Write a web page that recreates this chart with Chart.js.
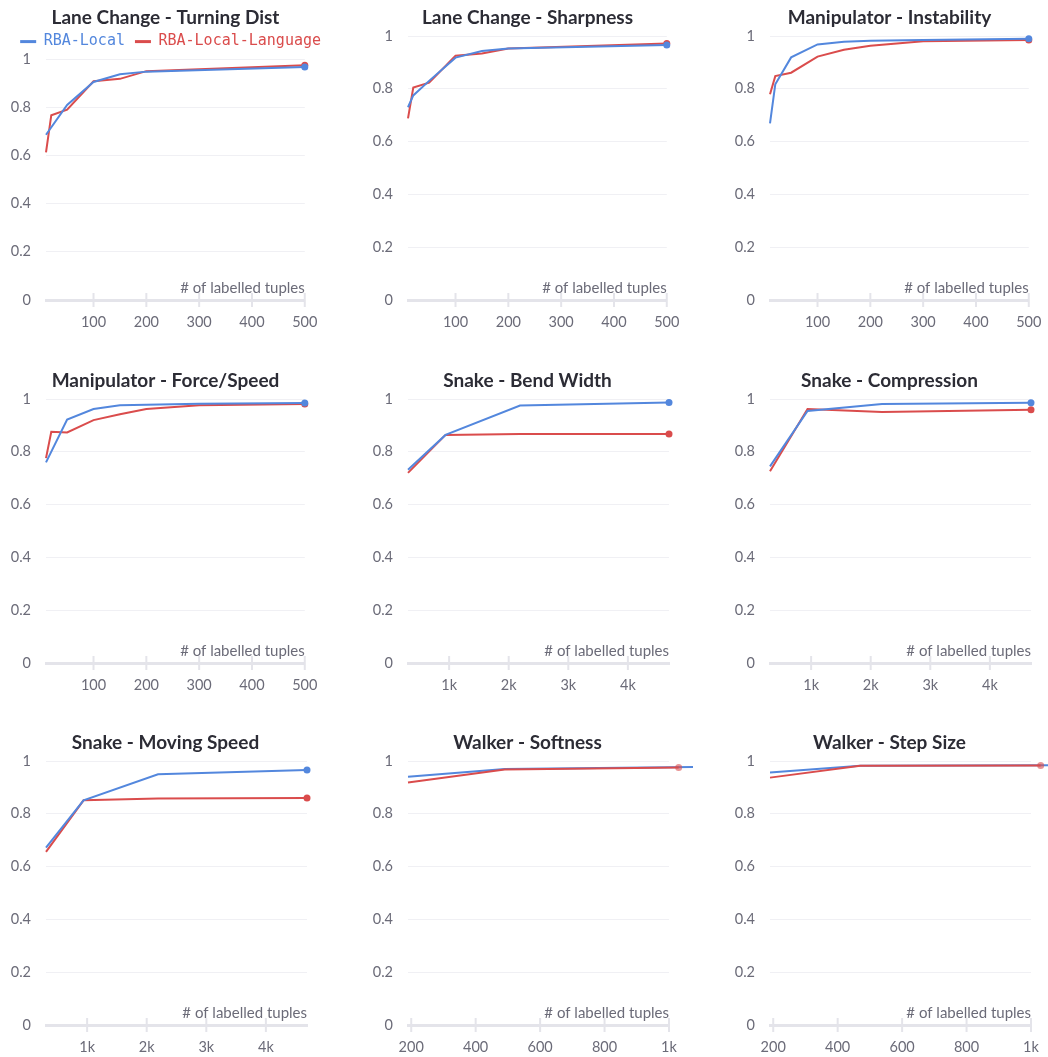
<!DOCTYPE html>
<html><head><meta charset="utf-8">
<script src="https://cdn.jsdelivr.net/npm/chart.js"></script>
<style>
html,body{margin:0;padding:0;background:#fff;overflow:hidden;width:1048px;height:1057px;position:relative;}
canvas{position:absolute;}
</style></head><body>
<script>
// ---------- data ----------
const seriesNames = ['RBA-Local', 'RBA-Local-Language'];
const yTicks = [0, 0.2, 0.4, 0.6, 0.8, 1];
const xAxisTitle = '# of labelled tuples';

const titles = [
  'Lane Change - Turning Dist', 'Lane Change - Sharpness', 'Manipulator - Instability',
  'Manipulator - Force/Speed', 'Snake - Bend Width', 'Snake - Compression',
  'Snake - Moving Speed', 'Walker - Softness', 'Walker - Step Size'
];

const ticksSmall = [100, 200, 300, 400, 500];
const ticksSnake = [1000, 2000, 3000, 4000];
const ticksWalker = [200, 400, 600, 800, 1000];

// Lane Change - Turning Dist
const xTurning = [10, 20, 50, 100, 150, 200, 500];
const blueTurning = [0.686, null, 0.81, 0.905, 0.937, 0.948, 0.967];
const redTurning = [0.613, 0.767, 0.79, 0.908, 0.918, 0.95, 0.974];
// Lane Change - Sharpness
const xSharp = [10, 20, 50, 100, 150, 200, 500];
const blueSharp = [0.73, 0.775, 0.83, 0.918, 0.943, 0.953, 0.966];
const redSharp = [0.688, 0.805, 0.823, 0.925, 0.934, 0.953, 0.972];
// Manipulator - Instability
const xInstab = [10, 20, 50, 100, 150, 200, 300, 500];
const blueInstab = [0.669, 0.817, 0.919, 0.968, 0.978, 0.982, 0.985, 0.99];
const redInstab = [0.779, 0.848, 0.861, 0.922, 0.948, 0.963, 0.98, 0.985];
// Manipulator - Force/Speed
const xForce = [10, 20, 50, 100, 150, 200, 300, 500];
const blueForce = [0.76, null, 0.922, 0.962, 0.976, 0.978, 0.982, 0.985];
const redForce = [0.776, 0.876, 0.873, 0.92, 0.942, 0.962, 0.976, 0.981];
// Snake - Bend Width
const xBend = [310, 940, 2190, 4690];
const blueBend = [0.732, 0.864, 0.975, 0.987];
const redBend = [0.72, 0.864, 0.867, 0.867];
// Snake - Compression
const xCompr = [310, 940, 2190, 4690];
const blueCompr = [0.745, 0.955, 0.981, 0.986];
const redCompr = [0.726, 0.962, 0.951, 0.959];
// Snake - Moving Speed
const xMoving = [310, 940, 2190, 4690];
const blueMoving = [0.672, 0.851, 0.95, 0.966];
const redMoving = [0.656, 0.851, 0.858, 0.86];
// Walker - Softness
const xSoftBlue = [190, 490, 1100];
const blueSoft = [0.94, 0.97, 0.978];
const xSoftRed = [190, 490, 1030];
const redSoft = [0.919, 0.968, 0.975];
// Walker - Step Size
const xStepBlue = [190, 470, 1100];
const blueStep = [0.956, 0.982, 0.984];
const xStepRed = [190, 470, 1030];
const redStep = [0.937, 0.982, 0.983];

// ---------- styling / layout ----------
const BLUE = '#5387DD';
const RED = '#DA4C4C';
const TICK_COLOR = '#6b6b78';
const FONT = 'Lato, "Noto Sans", sans-serif';

const panels = [
  {xb: xTurning, b: blueTurning, xr: xTurning, r: redTurning, min: 10, max: 500, ticks: ticksSmall},
  {xb: xSharp, b: blueSharp, xr: xSharp, r: redSharp, min: 10, max: 500, ticks: ticksSmall},
  {xb: xInstab, b: blueInstab, xr: xInstab, r: redInstab, min: 10, max: 500, ticks: ticksSmall},
  {xb: xForce, b: blueForce, xr: xForce, r: redForce, min: 10, max: 500, ticks: ticksSmall},
  {xb: xBend, b: blueBend, xr: xBend, r: redBend, min: 310, max: 4690, ticks: ticksSnake},
  {xb: xCompr, b: blueCompr, xr: xCompr, r: redCompr, min: 310, max: 4690, ticks: ticksSnake},
  {xb: xMoving, b: blueMoving, xr: xMoving, r: redMoving, min: 310, max: 4690, ticks: ticksSnake},
  {xb: xSoftBlue, b: blueSoft, xr: xSoftRed, r: redSoft, min: 190, max: 1000, ticks: ticksWalker, fadeEnd: true},
  {xb: xStepBlue, b: blueStep, xr: xStepRed, r: redStep, min: 190, max: 1000, ticks: ticksWalker, fadeEnd: true}
];
const colLeft = [0, 362, 724];
const rowTop = [0, 363, 725];
const CW = 331, CH = 345;

const tickMarks = {
  id: 'tickMarks',
  beforeDatasetsDraw(chart) {
    const s = chart.scales.x, ctx = chart.ctx, y = chart.chartArea.bottom + 1;
    ctx.save();
    ctx.strokeStyle = '#e4e4ea';
    ctx.lineWidth = 2;
    s.ticks.forEach(t => {
      const px = s.getPixelForValue(t.value);
      ctx.beginPath();
      ctx.moveTo(px, y - 8);
      ctx.lineTo(px, y + 6);
      ctx.stroke();
    });
    ctx.restore();
  }
};

// end markers that lie past the axis maximum: let the library's point element draw them
const overflowPoints = {
  id: 'overflowPoints',
  afterDatasetsDraw(chart) {
    const area = chart.chartArea;
    chart.data.datasets.forEach((d, k) => {
      const meta = chart.getDatasetMeta(k);
      const el = meta.data[meta.data.length - 1];
      if (!el || el.x <= area.right + 2) return;
      el.draw(chart.ctx, {left: 0, top: 0, right: chart.width, bottom: chart.height});
    });
  }
};

function pts(xs, ys) { return xs.map((v, i) => ({x: v, y: ys[i]})); }
function fmtX(v) { return v >= 1000 ? (v / 1000) + 'k' : String(v); }

panels.forEach((p, i) => {
  const c = document.createElement('canvas');
  c.width = CW; c.height = CH;
  c.style.left = colLeft[i % 3] + 'px';
  c.style.top = rowTop[Math.floor(i / 3)] + 'px';
  c.style.width = CW + 'px'; c.style.height = CH + 'px';
  document.body.appendChild(c);
  const withLegend = i === 0;
  const lastB = p.xb.length - 1, lastR = p.xr.length - 1;
  const redEnd = p.fadeEnd ? 'rgba(218,76,76,0.6)' : RED;
  new Chart(c, {
    type: 'line',
    data: {
      datasets: [
        {label: seriesNames[0], data: pts(p.xb, p.b), borderColor: BLUE, backgroundColor: BLUE,
         borderWidth: 2, tension: 0, spanGaps: true, clip: false, order: p.fadeEnd ? 1 : 0,
         pointRadius: ctx => (ctx.dataIndex === lastB && !p.fadeEnd ? 3.5 : 0), pointBorderWidth: 0,
         pointBackgroundColor: BLUE, pointHoverRadius: 0},
        {label: seriesNames[1], data: pts(p.xr, p.r), borderColor: RED, backgroundColor: RED,
         borderWidth: 2, tension: 0, spanGaps: true, clip: false, order: p.fadeEnd ? 0 : 1,
         pointRadius: ctx => (ctx.dataIndex === lastR ? 3.5 : 0), pointBorderWidth: 0,
         pointBackgroundColor: redEnd, pointHoverRadius: 0}
      ]
    },
    options: {
      responsive: false, animation: false, devicePixelRatio: 1,
      events: [],
      layout: {padding: {left: 0, right: 0, top: 0, bottom: 10}},
      scales: {
        x: {
          type: 'linear', min: p.min, max: p.max,
          afterBuildTicks: s => { s.ticks = p.ticks.map(v => ({value: v})); },
          afterFit: s => { s.height = 35; },
          grid: {display: false, drawTicks: false},
          border: {display: true, color: '#e4e4ea', width: 3},
          ticks: {padding: 13.6, color: TICK_COLOR, font: {family: FONT, size: 14.5},
                  maxRotation: 0, autoSkip: false, callback: v => fmtX(v)},
          title: {display: true, text: xAxisTitle, align: 'end', color: TICK_COLOR,
                  font: {family: FONT, size: 15}, padding: {top: 0, bottom: 37.4}}
        },
        y: {
          min: 0, max: 1,
          afterBuildTicks: s => { s.ticks = yTicks.map(v => ({value: v})); },
          afterFit: s => { s.width = 46; },
          grid: {color: '#f0f0f4', drawTicks: false, lineWidth: 1},
          border: {display: false},
          ticks: {padding: 15, color: TICK_COLOR, font: {family: FONT, size: 14.5}, callback: v => String(v)}
        },
        yR: {
          position: 'right', display: true,
          grid: {display: false, drawTicks: false}, border: {display: false},
          ticks: {display: false},
          afterFit: s => { s.width = 24; }
        }
      },
      plugins: {
        tooltip: {enabled: false},
        title: {
          display: true, text: titles[i], color: '#2c2c35',
          font: {family: FONT, size: 19, weight: 'bold', lineHeight: 0.7},
          padding: {top: 10.8, bottom: withLegend ? 0 : 11.9}
        },
        legend: {
          display: withLegend, position: 'top', align: 'end', fullSize: true,
          labels: {
            boxWidth: 16, boxHeight: 3, padding: 10,
            font: {family: '"DejaVu Sans Mono", monospace', size: 15},
            generateLabels: chart => chart.data.datasets.map((d, k) => ({
              text: d.label, fillStyle: d.borderColor, strokeStyle: d.borderColor,
              lineWidth: 0, fontColor: d.borderColor, hidden: false, datasetIndex: k
            }))
          }
        }
      }
    },
    plugins: [tickMarks, overflowPoints]
  });
});
</script>
</body></html>
